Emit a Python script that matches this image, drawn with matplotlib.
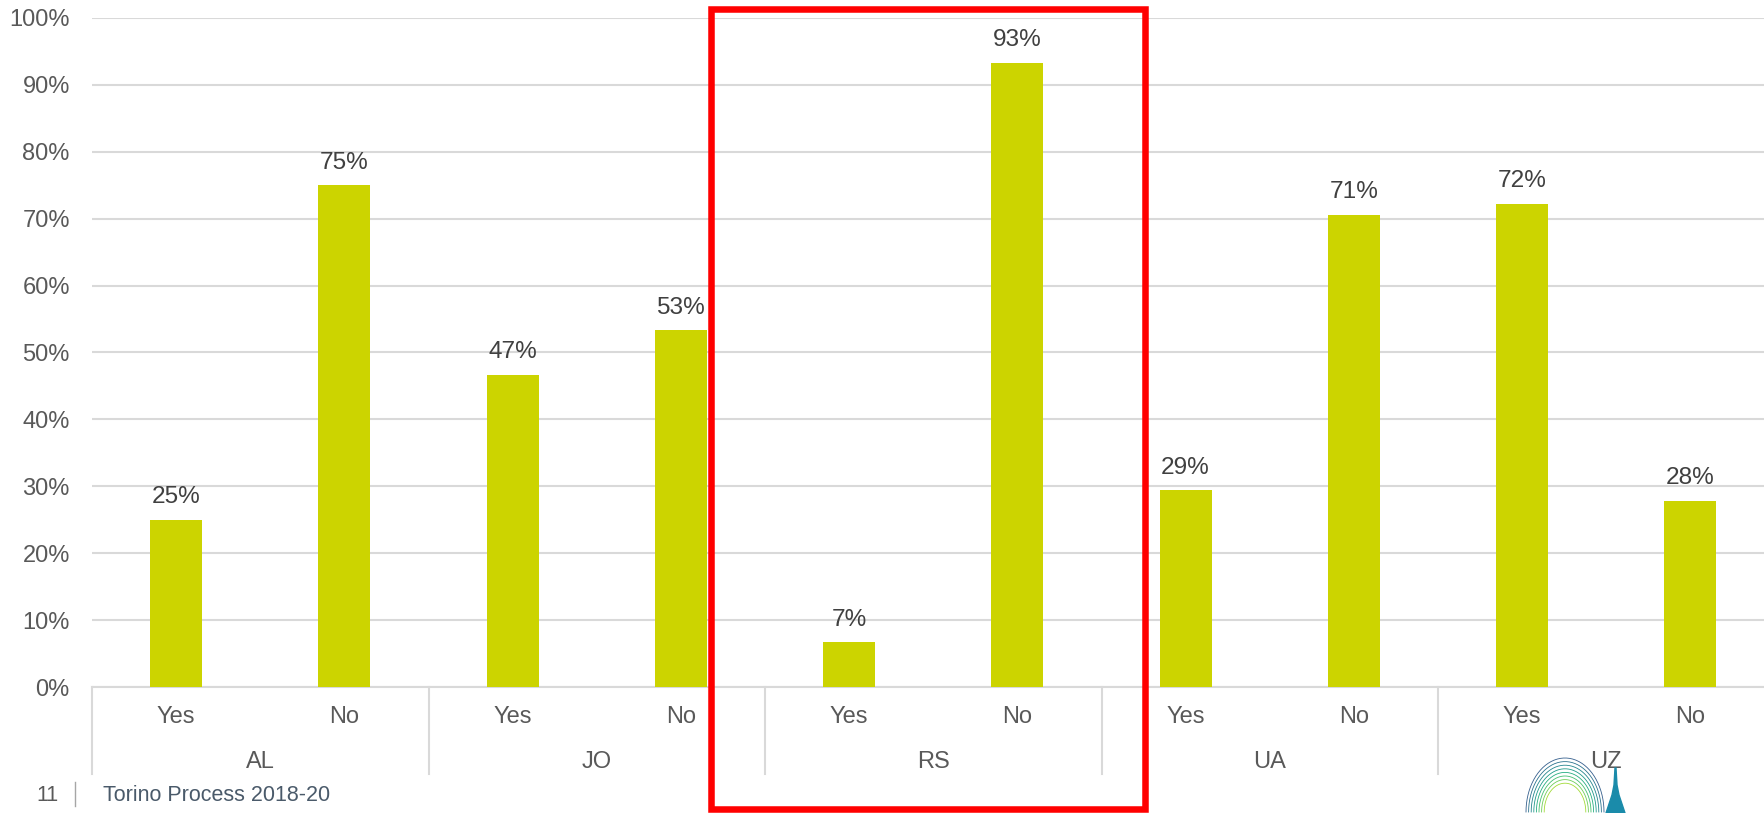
import numpy as np
import matplotlib
matplotlib.use('Agg')
import matplotlib.pyplot as plt
from matplotlib.patches import Rectangle, Polygon
import matplotlib.transforms as mtransforms

# chart data
countries = ['AL', 'JO', 'RS', 'UA', 'UZ']
answers = ['Yes', 'No']
values = [25.0, 75.0, 46.7, 53.3, 6.7, 93.3, 29.4, 70.6, 72.2, 27.8]
yticks = [0, 10, 20, 30, 40, 50, 60, 70, 80, 90, 100]
footer_page = '11'
footer_text = 'Torino Process 2018-20'

bar_color = '#CCD400'
grid_color = '#D9D9D9'
tick_color = '#595959'
label_color = '#404040'

plt.rcParams['font.family'] = ['Liberation Sans', 'DejaVu Sans']

fig = plt.figure(figsize=(17.64, 8.13), dpi=100)
ax = fig.add_axes([92 / 1764, 126 / 813, 1682.5 / 1764, 669 / 813])

x = np.arange(len(values))
ax.bar(x, values, width=0.31, color=bar_color, zorder=3)

for xi, v in zip(x, values):
    ax.annotate(f'{v:.0f}%', (xi, v), xytext=(0, 12), textcoords='offset points',
                ha='center', va='baseline', fontsize=17.6, color=label_color)

ax.set_xlim(-0.5, len(values) - 0.5)
ax.set_ylim(0, 100)
ax.set_yticks(yticks)
ax.set_yticklabels([f'{t}%' for t in yticks], fontsize=17, color=tick_color)
ax.yaxis.grid(True, color=grid_color, linewidth=1.5, zorder=0)
ax.tick_params(axis='y', length=0, pad=16)

ax.set_xticks(x)
ax.set_xticklabels(answers * len(countries), fontsize=17, color=tick_color)
ax.tick_params(axis='x', length=0, pad=14)

for s in ['top', 'right', 'left']:
    ax.spines[s].set_visible(False)
ax.spines['bottom'].set_color(grid_color)
ax.spines['bottom'].set_linewidth(1.5)

# group labels and separators below the axis
trans = mtransforms.blended_transform_factory(ax.transData, ax.transAxes)
for i, c in enumerate(countries):
    ax.text(2 * i + 0.5, -0.112, c, transform=trans, ha='center', va='center',
            fontsize=17, color=tick_color)
    ax.plot([2 * i - 0.5, 2 * i - 0.5], [0, -0.130], transform=trans,
            color=grid_color, linewidth=1.5, clip_on=False)

# red highlight box
fig.add_artist(Rectangle((711 / 1764, 4 / 813), 434 / 1764, 799.5 / 813,
                         transform=fig.transFigure, fill=False,
                         edgecolor='#FF0000', linewidth=4.7, zorder=10))

# footer
fig.text(47 / 1764, 1 - 795 / 813, footer_page, ha='center', va='center',
         fontsize=15.5, color=tick_color)
fig.add_artist(plt.Line2D([75 / 1764, 75 / 1764], [1 - 782 / 813, 1 - 806 / 813],
                          transform=fig.transFigure, color='#A6A6A6', linewidth=1))
fig.text(103 / 1764, 1 - 795 / 813, footer_text, ha='left', va='center',
         fontsize=15.5, color='#4A5A6A')

# small logo fragment (spire + arcs) bottom right
spire = Polygon([(1615 / 1764, 1 - 768 / 813), (1616 / 1764, 1 - 768 / 813),
                 (1617 / 1764, 1 - 785 / 813), (1619 / 1764, 1 - 795 / 813),
                 (1625 / 1764, 0), (1606 / 1764, 0), (1612 / 1764, 1 - 795 / 813),
                 (1614 / 1764, 1 - 785 / 813)],
                closed=True, transform=fig.transFigure, color='#1A8BAA', zorder=5)
fig.add_artist(spire)
t = np.linspace(0, np.pi, 40)
for k in range(8):
    r = 30 - 2 * k
    col = plt.cm.viridis(0.3 + 0.08 * k)
    fig.add_artist(plt.Line2D((1565 + r * np.cos(t) * 1.3) / 1764,
                              (1 - (812 - r * 1.8 * np.sin(t)) / 813),
                              transform=fig.transFigure, color=col, linewidth=0.6))

fig.savefig('out.png', dpi=100)
